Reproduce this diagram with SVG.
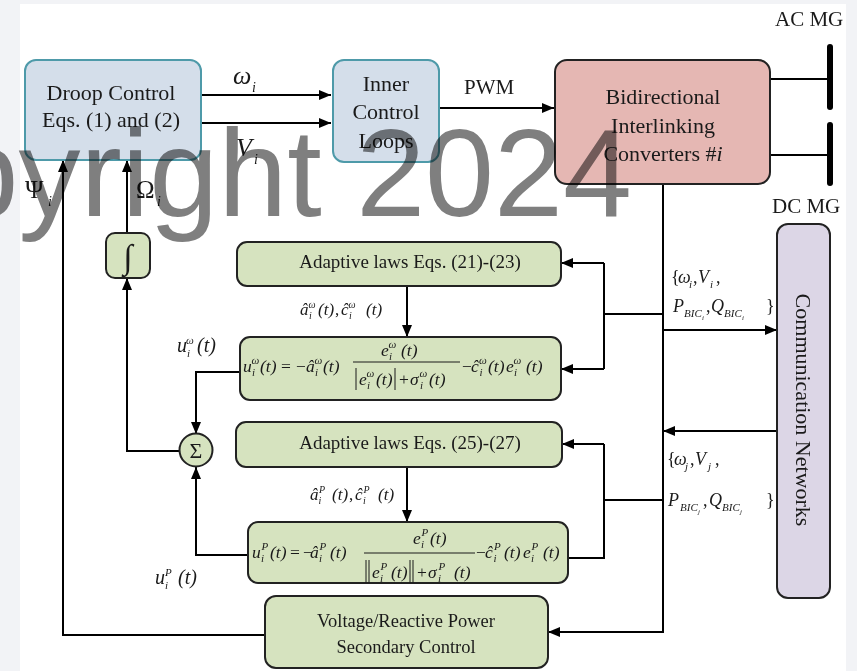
<svg xmlns="http://www.w3.org/2000/svg" width="857" height="671" viewBox="0 0 857 671">
  <defs>
    <marker id="ah" viewBox="0 0 12 10" refX="12" refY="5" markerWidth="12" markerHeight="10" markerUnits="userSpaceOnUse" orient="auto">
      <path d="M0,0 L12,5 L0,10 Z" fill="#000"/>
    </marker>
    <style>
      .t{font-family:"Liberation Serif","Times New Roman",serif;fill:#1a1a1a}
      .c{text-anchor:middle}
      .m{font-family:"Liberation Serif","Times New Roman",serif;font-style:italic;fill:#1a1a1a}
      .eq{font-size:17.5px}
      .s{font-size:10px}
      .eq .s{font-size:11px}
      .up{font-style:normal}
      .wire{fill:none;stroke:#000;stroke-width:2}
      .arr{fill:none;stroke:#000;stroke-width:2;marker-end:url(#ah)}
      .blue{fill:#d4deea;stroke:#4e9aa9;stroke-width:2}
      .green{fill:#d6e3bf;stroke:#222;stroke-width:2}
      .pink{fill:#e5b7b3;stroke:#222;stroke-width:2}
      .violet{fill:#dcd6e6;stroke:#222;stroke-width:2}
      .bus{stroke:#000;stroke-width:6;stroke-linecap:round}
      .mark{font-family:"Liberation Sans",Arial,sans-serif;font-size:124px;fill:#7f7f7f;mix-blend-mode:multiply}
    </style>
  </defs>

  <!-- page -->
  <rect x="0" y="0" width="857" height="671" fill="#f2f3f6"/>
  <rect x="20" y="4" width="826" height="667" fill="#ffffff"/>

  <!-- connectors -->
  <g id="connectors">
    <path class="arr" d="M201,95 H331"/>
    <path class="arr" d="M201,123 H331"/>
    <path class="arr" d="M439,108 H554"/>
    <path class="wire" d="M770,79 H830"/>
    <path class="wire" d="M770,155 H830"/>
    <line class="bus" x1="830" y1="47" x2="830" y2="107"/>
    <line class="bus" x1="830" y1="125" x2="830" y2="183"/>
    <path class="arr" d="M663,184 V632 H548"/>
    <path class="arr" d="M663,330 H777"/>
    <path class="arr" d="M777,431 H663"/>
    <path class="wire" d="M663,314 H604 M604,263 V369"/>
    <path class="arr" d="M604,263 H561"/>
    <path class="arr" d="M604,369 H561"/>
    <path class="wire" d="M663,500 H604 M604,444 V558 H568"/>
    <path class="arr" d="M604,444 H562"/>
    <path class="arr" d="M407,286 V337"/>
    <path class="arr" d="M407,467 V522"/>
    <path class="arr" d="M240,372 H196 V434"/>
    <path class="arr" d="M248,555 H196 V467"/>
    <path class="arr" d="M180,451 H127 V278"/>
    <path class="arr" d="M127,233 V160"/>
    <path class="arr" d="M265,635 H63 V160"/>
  </g>

  <!-- signal labels -->
  <g id="labels">
    <text class="m" x="233" y="84" font-size="26">ω</text>
    <text class="m" x="252" y="92" font-size="14">i</text>
    <text class="m" x="236" y="156" font-size="26">V</text>
    <text class="m" x="254" y="164" font-size="14">i</text>
    <text class="t" x="25" y="198" font-size="25">Ψ</text>
    <text class="m" x="48" y="206" font-size="14">i</text>
    <text class="t" x="136" y="198" font-size="25">Ω</text>
    <text class="m" x="157" y="206" font-size="14">i</text>
    <text class="t" x="464" y="94" font-size="21">PWM</text>
    <text class="t" x="775" y="26" font-size="21">AC MG</text>
    <text class="t" x="772" y="213" font-size="21">DC MG</text>

    <text class="m" font-size="20">
      <tspan x="177" y="352">u</tspan><tspan x="187" y="357" font-size="11">i</tspan><tspan x="186" y="344" font-size="11">ω</tspan><tspan x="197" y="352">(t)</tspan>
    </text>
    <text class="m" font-size="20">
      <tspan x="155" y="584">u</tspan><tspan x="165" y="589" font-size="11">i</tspan><tspan x="165" y="576" font-size="11">P</tspan><tspan x="178" y="584">(t)</tspan>
    </text>

    <text class="m" font-size="17">
      <tspan x="300" y="315">â</tspan><tspan class="s" x="309" y="319">i</tspan><tspan class="s" x="308.5" y="308">ω</tspan><tspan x="318" y="315">(t)</tspan><tspan class="up" x="335" y="315">,</tspan><tspan x="341" y="315">ĉ</tspan><tspan class="s" x="349" y="319">i</tspan><tspan class="s" x="348.5" y="308">ω</tspan><tspan x="366" y="315">(t)</tspan>
    </text>
    <text class="m" font-size="17">
      <tspan x="310" y="500">â</tspan><tspan class="s" x="318.5" y="504">i</tspan><tspan class="s" x="319" y="493">P</tspan><tspan x="332" y="500">(t)</tspan><tspan class="up" x="349" y="500">,</tspan><tspan x="355" y="500">ĉ</tspan><tspan class="s" x="363" y="504">i</tspan><tspan class="s" x="363.5" y="493">P</tspan><tspan x="378" y="500">(t)</tspan>
    </text>

    <text class="m" font-size="18">
      <tspan class="up" x="671" y="283">{</tspan><tspan x="678" y="283">ω</tspan><tspan x="689" y="288" font-size="11">i</tspan><tspan class="up" x="693" y="283">,</tspan><tspan x="698" y="283">V</tspan><tspan x="710" y="288" font-size="11">i</tspan><tspan class="up" x="716" y="283">,</tspan>
    </text>
    <text class="m" font-size="18">
      <tspan x="673" y="312">P</tspan><tspan x="684" y="317" font-size="11">BIC</tspan><tspan x="702" y="320" font-size="7">i</tspan><tspan class="up" x="706" y="312">,</tspan><tspan x="711" y="312">Q</tspan><tspan x="724" y="317" font-size="11">BIC</tspan><tspan x="742" y="320" font-size="7">i</tspan><tspan class="up" x="766" y="312">}</tspan>
    </text>
    <text class="m" font-size="18">
      <tspan class="up" x="667" y="465">{</tspan><tspan x="674" y="465">ω</tspan><tspan x="685" y="470" font-size="11">j</tspan><tspan class="up" x="690" y="465">,</tspan><tspan x="695" y="465">V</tspan><tspan x="708" y="470" font-size="11">j</tspan><tspan class="up" x="715" y="465">,</tspan>
    </text>
    <text class="m" font-size="18">
      <tspan x="668" y="506">P</tspan><tspan x="680" y="511" font-size="11">BIC</tspan><tspan x="698" y="514" font-size="7">j</tspan><tspan class="up" x="703" y="506">,</tspan><tspan x="709" y="506">Q</tspan><tspan x="722" y="511" font-size="11">BIC</tspan><tspan x="740" y="514" font-size="7">j</tspan><tspan class="up" x="766" y="506">}</tspan>
    </text>
  </g>

  <!-- nodes -->
  <g id="droop">
    <rect class="blue" x="25" y="60" width="176" height="100" rx="11"/>
    <text class="t c" x="111" y="100" font-size="22">Droop Control</text>
    <text class="t c" x="111" y="127" font-size="22">Eqs. (1) and (2)</text>
  </g>
  <g id="inner">
    <rect class="blue" x="333" y="60" width="106" height="102" rx="11"/>
    <text class="t c" x="386" y="91" font-size="22">Inner</text>
    <text class="t c" x="386" y="119" font-size="22">Control</text>
    <text class="t c" x="386" y="148" font-size="22">Loops</text>
  </g>
  <g id="bic">
    <rect class="pink" x="555" y="60" width="215" height="124" rx="12"/>
    <text class="t c" x="663" y="104" font-size="22">Bidirectional</text>
    <text class="t c" x="663" y="133" font-size="22">Interlinking</text>
    <text class="t c" x="663" y="161" font-size="22">Converters #<tspan font-style="italic">i</tspan></text>
  </g>
  <g id="comm">
    <rect class="violet" x="777" y="224" width="53" height="374" rx="11"/>
    <text class="t c" font-size="22" transform="translate(796,410) rotate(90)" x="0" y="0">Communication Networks</text>
  </g>
  <g id="integrator">
    <rect class="green" x="106" y="233" width="44" height="45" rx="9"/>
    <text class="m c" x="128" y="268" font-size="34">∫</text>
  </g>
  <g id="sum">
    <circle class="green" cx="196" cy="450" r="16.5"/>
    <text class="t c" x="196" y="458" font-size="22">Σ</text>
  </g>
  <g id="adaptive-omega">
    <rect class="green" x="237" y="242" width="324" height="44" rx="10"/>
    <text class="t c" x="410" y="268" font-size="19">Adaptive laws Eqs. (21)-(23)</text>
  </g>
  <g id="control-omega">
    <rect class="green" x="240" y="337" width="321" height="63" rx="10"/>
    <text class="m eq">
      <tspan x="243" y="372">u</tspan><tspan class="s" x="252" y="376">i</tspan><tspan class="s" x="251.5" y="364">ω</tspan><tspan x="260" y="372">(t)</tspan><tspan class="up" x="281" y="372">=</tspan><tspan class="up" x="296" y="372">−</tspan><tspan x="306" y="372">â</tspan><tspan class="s" x="315" y="376">i</tspan><tspan class="s" x="314.5" y="364">ω</tspan><tspan x="323" y="372">(t)</tspan>
      <tspan x="381" y="356">e</tspan><tspan class="s" x="389" y="360">i</tspan><tspan class="s" x="388.5" y="348">ω</tspan><tspan x="401" y="356">(t)</tspan>
      <tspan x="359" y="385">e</tspan><tspan class="s" x="367" y="389">i</tspan><tspan class="s" x="366.5" y="377">ω</tspan><tspan x="376" y="385">(t)</tspan><tspan class="up" x="399" y="385">+</tspan><tspan x="410" y="385">σ</tspan><tspan class="s" x="420" y="389">i</tspan><tspan class="s" x="419.5" y="377">ω</tspan><tspan x="429" y="385">(t)</tspan>
      <tspan class="up" x="462" y="372">−</tspan><tspan x="471" y="372">ĉ</tspan><tspan class="s" x="479.5" y="376">i</tspan><tspan class="s" x="479" y="364">ω</tspan><tspan x="488" y="372">(t)</tspan><tspan x="506" y="372">e</tspan><tspan class="s" x="514" y="376">i</tspan><tspan class="s" x="513.5" y="364">ω</tspan><tspan x="526" y="372">(t)</tspan>
    </text>
    <path d="M353,362 H460 M356,368 V390 M395,368 V390" stroke="#1a1a1a" stroke-width="1" fill="none"/>
  </g>
  <g id="adaptive-p">
    <rect class="green" x="236" y="422" width="326" height="45" rx="10"/>
    <text class="t c" x="410" y="449" font-size="19">Adaptive laws Eqs. (25)-(27)</text>
  </g>
  <g id="control-p">
    <rect class="green" x="248" y="522" width="320" height="61" rx="10"/>
    <text class="m eq">
      <tspan x="252" y="558">u</tspan><tspan class="s" x="261" y="562">i</tspan><tspan class="s" x="261.5" y="550">P</tspan><tspan x="270" y="558">(t)</tspan><tspan class="up" x="290" y="558">=</tspan><tspan class="up" x="303" y="558">−</tspan><tspan x="310" y="558">â</tspan><tspan class="s" x="319" y="562">i</tspan><tspan class="s" x="319.5" y="550">P</tspan><tspan x="330" y="558">(t)</tspan>
      <tspan x="413" y="544">e</tspan><tspan class="s" x="421" y="548">i</tspan><tspan class="s" x="421.5" y="536">P</tspan><tspan x="430" y="544">(t)</tspan>
      <tspan x="372" y="578">e</tspan><tspan class="s" x="380" y="582">i</tspan><tspan class="s" x="380.5" y="570">P</tspan><tspan x="391" y="578">(t)</tspan><tspan class="up" x="417" y="578">+</tspan><tspan x="428" y="578">σ</tspan><tspan class="s" x="438" y="582">i</tspan><tspan class="s" x="438.5" y="570">P</tspan><tspan x="454" y="578">(t)</tspan>
      <tspan class="up" x="476" y="558">−</tspan><tspan x="485" y="558">ĉ</tspan><tspan class="s" x="493.5" y="562">i</tspan><tspan class="s" x="494" y="550">P</tspan><tspan x="504" y="558">(t)</tspan><tspan x="523" y="558">e</tspan><tspan class="s" x="531" y="562">i</tspan><tspan class="s" x="531.5" y="550">P</tspan><tspan x="543" y="558">(t)</tspan>
    </text>
    <path d="M364,553 H475 M366,560 V583 M369,560 V583 M410,560 V583 M413,560 V583" stroke="#1a1a1a" stroke-width="1" fill="none"/>
  </g>
  <g id="secondary">
    <rect class="green" x="265" y="596" width="283" height="72" rx="11"/>
    <text class="t c" x="406" y="627" font-size="18.5">Voltage/Reactive Power</text>
    <text class="t c" x="406" y="653" font-size="18.5">Secondary Control</text>
  </g>

  <!-- overlay mark, multiplied so dark strokes stay dark -->
  <text class="mark" x="632" y="216" text-anchor="end">Copyright 2024</text>
</svg>
